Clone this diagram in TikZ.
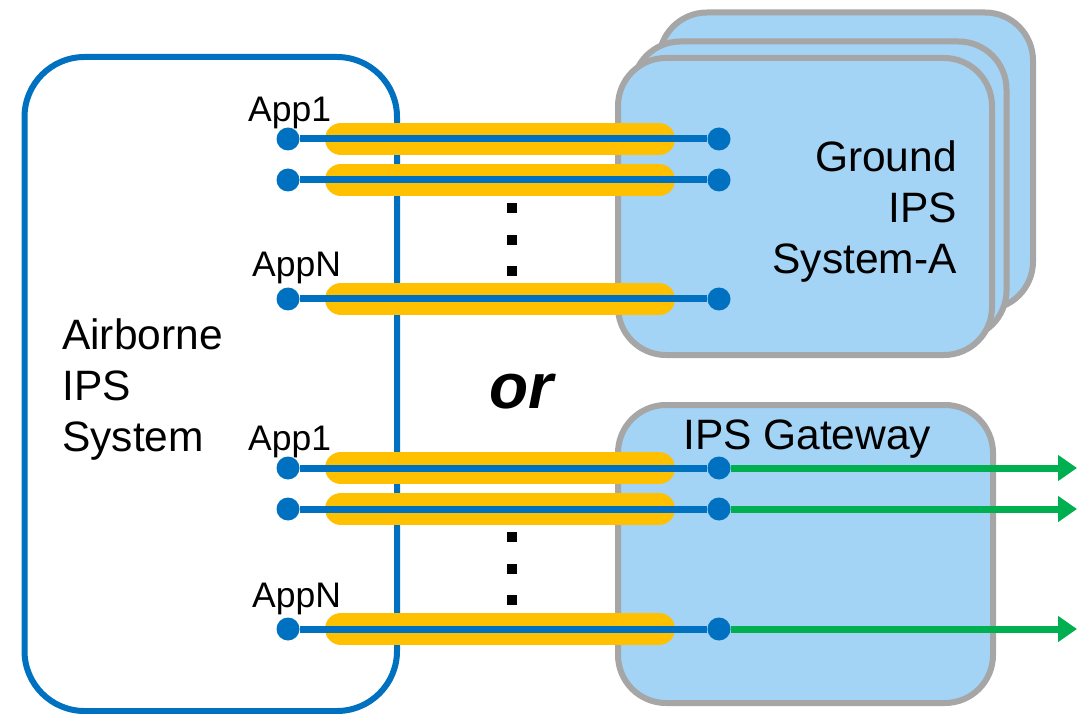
\documentclass[tikz,border=0pt]{standalone}
\usepackage{fontspec}
\setmainfont{Liberation Sans}
\usetikzlibrary{arrows.meta}
\definecolor{ipsblue}{RGB}{0,112,192}
\definecolor{ipsyellow}{RGB}{255,192,0}
\definecolor{ipsgreen}{RGB}{0,176,80}
\definecolor{ipsgray}{RGB}{166,166,166}
\definecolor{ipsfill}{RGB}{163,211,245}

\begin{document}
\begin{tikzpicture}[x=1pt, y=-1pt,
	sysbox/.style={draw=ipsgray, fill=ipsfill, line width=6pt, rounded corners=48pt, inner sep=0pt, minimum width=374pt, minimum height=297pt},
	appdot/.style={circle, fill=ipsblue, inner sep=0pt, minimum size=23pt},
	sqdot/.style={rectangle, fill=black, inner sep=0pt, minimum size=10pt},
	link/.style={ipsblue, line width=7pt},
	tunnel/.style={ipsyellow, line width=32pt, line cap=round, shorten <=53pt, shorten >=60pt},
	flow/.style={ipsgreen, line width=7pt, -{Triangle[length=19pt,width=25pt]}},
	big/.style={font=\fontsize{42.5}{51}\selectfont, inner sep=0pt},
	applbl/.style={font=\fontsize{35.5}{40}\selectfont, inner sep=0pt, anchor=base west}]
	\useasboundingbox (0,0) rectangle (1077,714);
	% ground systems (stacked) and gateway
	\node[sysbox] (gndC) at (846,161) {};
	\node[sysbox] (gndB) at (819.5,190) {};
	\node[sysbox] (gndA) at (805,206.5) {};
	\node[sysbox, minimum width=375pt, minimum height=298pt] (gw) at (805.5,554) {};
	\node[draw=ipsblue, line width=6pt, rounded corners=60pt, inner sep=0pt, minimum width=372.5pt, minimum height=654pt] (air) at (210.75,384) {};
	% texts
	\node[big, anchor=north west, align=left] (airtxt) at (62,319) {Airborne\\IPS\\System};
	\node[big, anchor=north east, align=right] (gndtxt) at (957,141) {Ground\\IPS\\System-A};
	\node[big, anchor=base west] (gwtxt) at (683,449) {IPS Gateway};
	\node[font=\fontsize{64}{64}\selectfont\bfseries\itshape, anchor=base, inner sep=0pt] (or) at (521,408) {or};
	\node[applbl] (l1) at (248,122) {App1};
	\node[applbl] (l2) at (252,277) {AppN};
	\node[applbl] (l3) at (248,450) {App1};
	\node[applbl] (l4) at (252,607) {AppN};
	% end points
	\node[appdot] (a1) at (288,139) {};
	\node[appdot] (a2) at (288,180) {};
	\node[appdot] (a3) at (288,299) {};
	\node[appdot] (a4) at (288,468) {};
	\node[appdot] (a5) at (288,509) {};
	\node[appdot] (a6) at (288,629) {};
	\node[appdot] (g1) at (719,139) {};
	\node[appdot] (g2) at (719,180) {};
	\node[appdot] (g3) at (719,299) {};
	\node[appdot] (g4) at (719,468) {};
	\node[appdot] (g5) at (719,509) {};
	\node[appdot] (g6) at (719,629) {};
	\coordinate (o4) at (1077,468);
	\coordinate (o5) at (1077,509);
	\coordinate (o6) at (1077,629);
	% tunnels
	\draw[tunnel] (a1.center) -- (g1.center);
	\draw[tunnel] (a2.center) -- (g2.center);
	\draw[tunnel] (a3.center) -- (g3.center);
	\draw[tunnel] (a4.center) -- (g4.center);
	\draw[tunnel] (a5.center) -- (g5.center);
	\draw[tunnel] (a6.center) -- (g6.center);
	\draw[link] (a1) -- (g1);
	\draw[link] (a2) -- (g2);
	\draw[link] (a3) -- (g3);
	\draw[link] (a4) -- (g4);
	\draw[link] (a5) -- (g5);
	\draw[link] (a6) -- (g6);
	\draw[flow] (g4) -- (o4);
	\draw[flow] (g5) -- (o5);
	\draw[flow] (g6) -- (o6);
	% vertical dots
	\node[sqdot] (d1) at (512,208) {};
	\node[sqdot] (d2) at (512,240) {};
	\node[sqdot] (d3) at (512,271) {};
	\node[sqdot] (d4) at (512,537) {};
	\node[sqdot] (d5) at (512,569) {};
	\node[sqdot] (d6) at (512,600) {};
\end{tikzpicture}
\end{document}
